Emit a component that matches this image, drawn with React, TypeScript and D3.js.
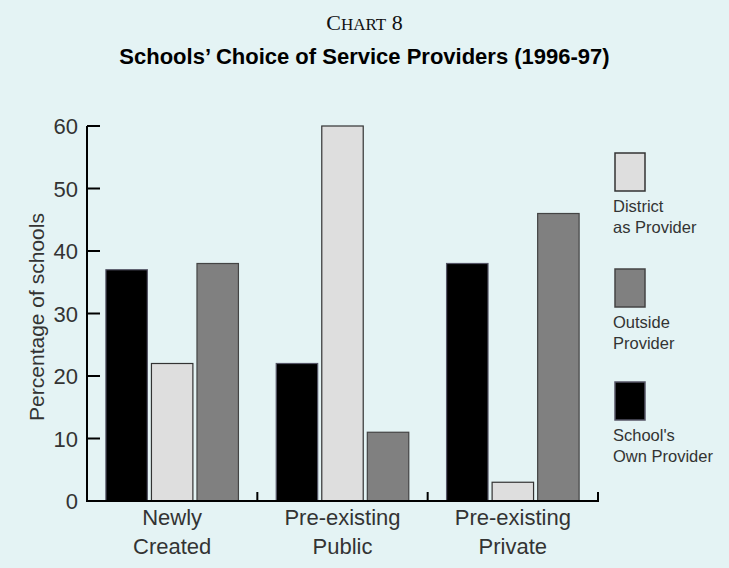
import React from "react";
import * as d3 from "d3";

const categories: string[][] = [["Newly", "Created"], ["Pre-existing", "Public"], ["Pre-existing", "Private"]];
const seriesNames = ["School's Own Provider", "District as Provider", "Outside Provider"];
const ownProvider = [37, 22, 38];
const districtProvider = [22, 60, 3];
const outsideProvider = [38, 11, 46];
const yTicks = [0, 10, 20, 30, 40, 50, 60];
const legendItems: { key: string; lines: string[] }[] = [
  { key: "District as Provider", lines: ["District", "as Provider"] },
  { key: "Outside Provider", lines: ["Outside", "Provider"] },
  { key: "School's Own Provider", lines: ["School's", "Own Provider"] },
];

const W = 729;
const H = 568;
const BG = "#e4f3f4";
const fills: Record<string, string> = {
  "School's Own Provider": "#000000",
  "District as Provider": "#dedede",
  "Outside Provider": "#808080",
};
const strokes: Record<string, string> = {
  "School's Own Provider": "#556",
  "District as Provider": "#333",
  "Outside Provider": "#444",
};
const FONT = "'Liberation Sans', Arial, Helvetica, sans-serif";

export default function App() {
  const x0 = 87, x1 = 598, yTop = 126, yBot = 501;
  const xScale = d3.scaleBand<number>().domain([0, 1, 2]).range([x0, x1]).paddingInner(0).paddingOuter(0);
  const inner = d3
    .scaleBand<string>()
    .domain(seriesNames)
    .range([0, xScale.bandwidth()])
    .paddingInner(0.09)
    .paddingOuter(0.415);
  const y = d3.scaleLinear().domain([0, 60]).range([yBot, yTop]);
  const values: Record<string, number[]> = {
    "School's Own Provider": ownProvider,
    "District as Provider": districtProvider,
    "Outside Provider": outsideProvider,
  };
  const boundaries = [1, 2, 3].map((i) => x0 + i * xScale.step());
  const legendY = [153, 269, 382];

  return (
    <svg width={W} height={H} style={{ position: "absolute", left: 0, top: 0 }} fontFamily={FONT}>
      <rect x={0} y={0} width={W} height={H} fill={BG} />
      <text x={W / 2} y={30} textAnchor="middle" fontFamily="'Liberation Serif', 'Times New Roman', serif" fontSize={22} fill="#111">
        C<tspan fontSize={17}>HART</tspan> 8
      </text>
      <text x={W / 2} y={64} textAnchor="middle" fontSize={22} fontWeight="bold" fill="#000">
        Schools’ Choice of Service Providers (1996-97)
      </text>

      {/* bars */}
      {categories.map((_, ci) =>
        seriesNames.map((s) => {
          const v = values[s][ci];
          const bx = (xScale(ci) as number) + (inner(s) as number);
          return (
            <rect
              key={ci + s}
              x={bx}
              y={y(v)}
              width={inner.bandwidth()}
              height={y(0) - y(v)}
              fill={fills[s]}
              stroke={strokes[s]}
              strokeWidth={1.2}
            />
          );
        })
      )}

      {/* y axis */}
      <line x1={x0} x2={x0} y1={yTop} y2={yBot + 1} stroke="#000" strokeWidth={2} />
      {yTicks.map((t) => (
        <g key={t}>
          <line x1={x0} x2={x0 + 13} y1={y(t)} y2={y(t)} stroke="#000" strokeWidth={2} />
          <text x={78} y={y(t) + 8} textAnchor="end" fontSize={22} fill="#333">
            {t}
          </text>
        </g>
      ))}
      {/* x axis */}
      <line x1={x0} x2={x1 + 1} y1={yBot} y2={yBot} stroke="#000" strokeWidth={2} />
      {boundaries.map((bx, i) => (
        <line key={i} x1={bx} x2={bx} y1={yBot} y2={yBot - 9} stroke="#000" strokeWidth={2} />
      ))}
      {categories.map((lines, ci) => (
        <text key={ci} textAnchor="middle" fontSize={22} fill="#333">
          {lines.map((l, li) => (
            <tspan key={li} x={(xScale(ci) as number) + xScale.bandwidth() / 2} y={525 + li * 28.5}>
              {l}
            </tspan>
          ))}
        </text>
      ))}

      <text transform={`translate(44,317) rotate(-90)`} textAnchor="middle" fontSize={21} fill="#333">
        Percentage of schools
      </text>

      {/* legend */}
      {legendItems.map((it, i) => (
        <g key={it.key}>
          <rect x={615} y={legendY[i]} width={30} height={38} fill={fills[it.key]} stroke={strokes[it.key]} strokeWidth={1.5} />
          {it.lines.map((l, li) => (
            <text key={li} x={613} y={legendY[i] + 59 + li * 21} fontSize={16.5} fill="#333">
              {l}
            </text>
          ))}
        </g>
      ))}
    </svg>
  );
}
